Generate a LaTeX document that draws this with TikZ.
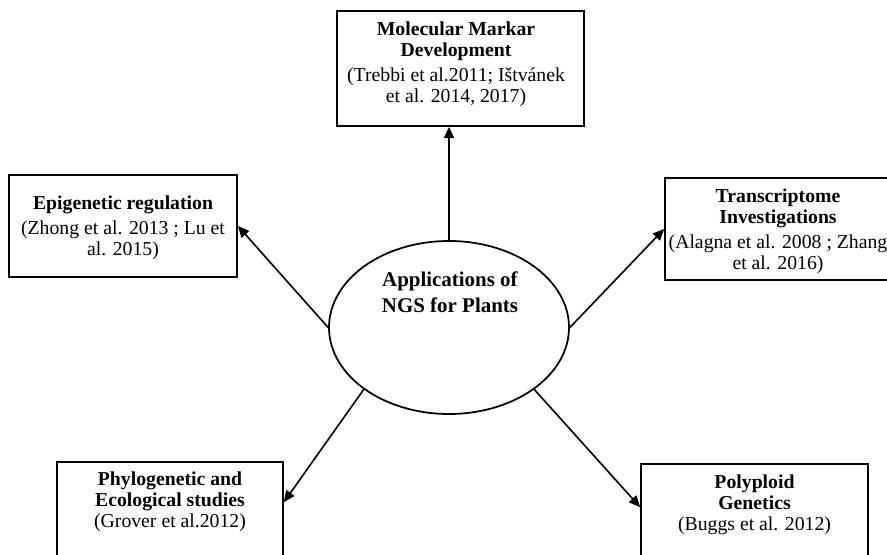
\documentclass[tikz,border=0pt]{standalone}
\usepackage{fontspec}
\setmainfont{Liberation Serif}
\usetikzlibrary{arrows.meta,shapes.geometric}
\begin{document}
\begin{tikzpicture}[x=0.75pt,y=-0.75pt,
  box/.style={draw,line width=1.3pt,rectangle,inner sep=0pt},
  txt/.style={align=center,inner sep=0pt,anchor=north,font=\fontsize{14.8}{15.75}\selectfont},
  link/.style={line width=1.2pt,-{Triangle[length=8.5pt,width=7.5pt]}}]
\useasboundingbox (0,0) rectangle (887,555);
\clip (0,0) rectangle (887,555);

% central topic
\node[draw,ellipse,line width=1.3pt,minimum width=180pt,minimum height=129.75pt,inner sep=0pt] (c) at (449,327.5) {};
\node[txt,font=\fontsize{15.7}{19.5}\selectfont] (ct) at (450,271.7) {\textbf{Applications of}\\\textbf{NGS for Plants}};

% application boxes
\node[box,minimum width=185.25pt,minimum height=86.25pt] (top) at (460.5,68.5) {};
\node[txt] (topt) at (456,21.5) {\textbf{Molecular Markar}\\\textbf{Development}\\[3pt](Trebbi et al.2011; Ištvánek\\et al. 2014, 2017)};

\node[box,minimum width=171pt,minimum height=76.5pt] (epi) at (123,226) {};
\node[txt] (epit) at (123,195.5) {\textbf{Epigenetic regulation}\\[3pt](Zhong et al. 2013 ; Lu et\\al. 2015)};

\node[box,minimum width=169.5pt,minimum height=76.5pt] (trans) at (778,229) {};
\node[txt] (transt) at (778,188.5) {\textbf{Transcriptome}\\\textbf{Investigations}\\[3pt](Alagna et al. 2008 ; Zhang\\et al. 2016)};

\node[box,minimum width=169.5pt,minimum height=88.5pt] (phy) at (170,521) {};
\node[txt] (phyt) at (170,471.5) {\textbf{Phylogenetic and}\\\textbf{Ecological studies}\\(Grover et al.2012)};

\node[box,minimum width=170.25pt,minimum height=87pt] (poly) at (754.5,522) {};
\node[txt] (polyt) at (754.5,474.5) {\textbf{Polyploid}\\\textbf{Genetics}\\(Buggs et al. 2012)};

% connectors
\draw[link] (c.north) -- (c.north |- top.south);
\draw[link] (c.180) -- (epi.east);
\draw[link] (c.0) -- (trans.west);
\draw[link] (c.216) -- ([yshift=-30.75pt]phy.north east);
\draw[link] (c.324) -- ([yshift=-33pt]poly.north west);
\end{tikzpicture}
\end{document}
